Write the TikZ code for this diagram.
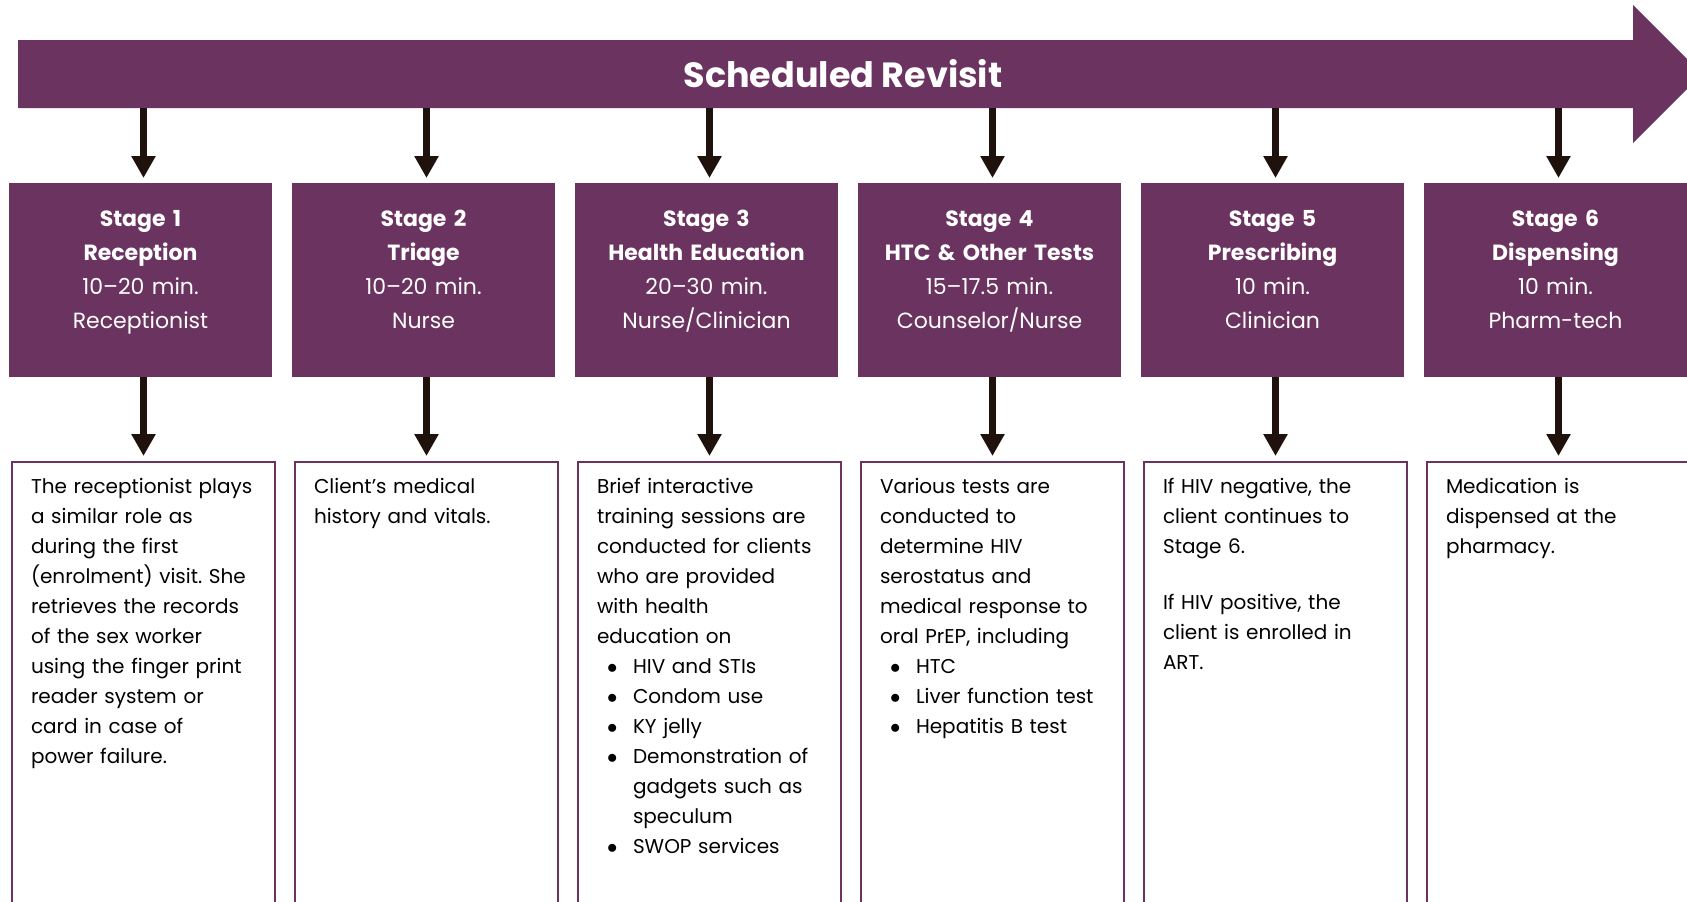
\documentclass[tikz,border=0pt]{standalone}
\usepackage{fontspec}
\setmainfont{Poppins}
\usetikzlibrary{arrows.meta}
\frenchspacing
\definecolor{plum}{HTML}{6B335F}
\definecolor{ink}{HTML}{1F110C}
\tikzstyle{stage}=[rectangle, fill=plum, text=white, inner sep=0pt, text width=263pt, align=center, font=\fontsize{22}{34}\selectfont, text height=43pt, text depth=151pt, anchor=north]
\tikzstyle{desc}=[rectangle, draw=plum, line width=1.5pt, fill=white, inner xsep=19pt, inner ysep=0pt, text width=225pt, align=left, font=\fontsize{20}{30}\selectfont, text height=32pt, text depth=427pt, anchor=north]
\tikzstyle{flow}=[-{Triangle[width=23pt,length=22pt]}, line width=7pt, draw=ink, shorten >=5pt]
\tikzstyle{title}=[text=white, font=\fontsize{35}{40}\selectfont\bfseries]
\newcommand{\bul}{\makebox[36pt][l]{\hspace{10pt}$\bullet$}}
\newcommand{\cont}{\hspace*{36pt}}

\begin{document}
\begin{tikzpicture}[x=1pt,y=-1pt]
				\clip (0,0) rectangle (1687,902);
				
				%The revisit band
				\fill[plum] (18,40) -- (1633,40) -- (1633,5) -- (1702,74) -- (1633,143) -- (1633,108) -- (18,108) -- cycle;
				\coordinate (bandbot) at (0,108);
				\node[title] (rev) at (843,74) {Scheduled Revisit};
				
				%The stages
				\node[stage] (s1) at (140.5,183) {\textbf{Stage 1}\\\textbf{Reception}\\10--20 min.\\Receptionist};
				\node[stage] (s2) at (423.5,183) {\textbf{Stage 2}\\\textbf{Triage}\\10--20 min.\\Nurse};
				\node[stage] (s3) at (706.5,183) {\textbf{Stage 3}\\\textbf{Health Education}\\20--30 min.\\Nurse/Clinician};
				\node[stage] (s4) at (989.5,183) {\textbf{Stage 4}\\\textbf{HTC \& Other Tests}\\15--17.5 min.\\Counselor/Nurse};
				\node[stage] (s5) at (1272.5,183) {\textbf{Stage 5}\\\textbf{Prescribing}\\10 min.\\Clinician};
				\node[stage] (s6) at (1555.5,183) {\textbf{Stage 6}\\\textbf{Dispensing}\\10 min.\\Pharm-tech};
				
				%The descriptions
				\node[desc] (d1) at (143.5,461) {The receptionist plays\\a similar role as\\during the first\\(enrolment) visit. She\\retrieves the records\\of the sex worker\\using the finger print\\reader system or\\card in case of\\power failure.};
				\node[desc] (d2) at (426.5,461) {Client’s medical\\history and vitals.};
				\node[desc] (d3) at (709.5,461) {Brief interactive\\training sessions are\\conducted for clients\\who are provided\\with health\\education on\\\bul HIV and STIs\\\bul Condom use\\\bul KY jelly\\\bul Demonstration of\\\cont gadgets such as\\\cont speculum\\\bul SWOP services};
				\node[desc] (d4) at (992.5,461) {Various tests are\\conducted to\\determine HIV\\serostatus and\\medical response to\\oral PrEP, including\\\bul HTC\\\bul Liver function test\\\bul Hepatitis B test};
				\node[desc] (d5) at (1275.5,461) {If HIV negative, the\\client continues to\\Stage 6.\\[26pt]If HIV positive, the\\client is enrolled in\\ART.};
				\node[desc] (d6) at (1558.5,461) {Medication is\\dispensed at the\\pharmacy.};
				
				%Band to stages
				\draw[flow] (bandbot -| d1.north) -- (s1.north -| d1.north);
				\draw[flow] (bandbot -| d2.north) -- (s2.north -| d2.north);
				\draw[flow] (bandbot -| d3.north) -- (s3.north -| d3.north);
				\draw[flow] (bandbot -| d4.north) -- (s4.north -| d4.north);
				\draw[flow] (bandbot -| d5.north) -- (s5.north -| d5.north);
				\draw[flow] (bandbot -| d6.north) -- (s6.north -| d6.north);
				
				%Stages to descriptions
				\draw[flow] (s1.south -| d1.north) -- (d1.north);
				\draw[flow] (s2.south -| d2.north) -- (d2.north);
				\draw[flow] (s3.south -| d3.north) -- (d3.north);
				\draw[flow] (s4.south -| d4.north) -- (d4.north);
				\draw[flow] (s5.south -| d5.north) -- (d5.north);
				\draw[flow] (s6.south -| d6.north) -- (d6.north);
\end{tikzpicture}
\end{document}
